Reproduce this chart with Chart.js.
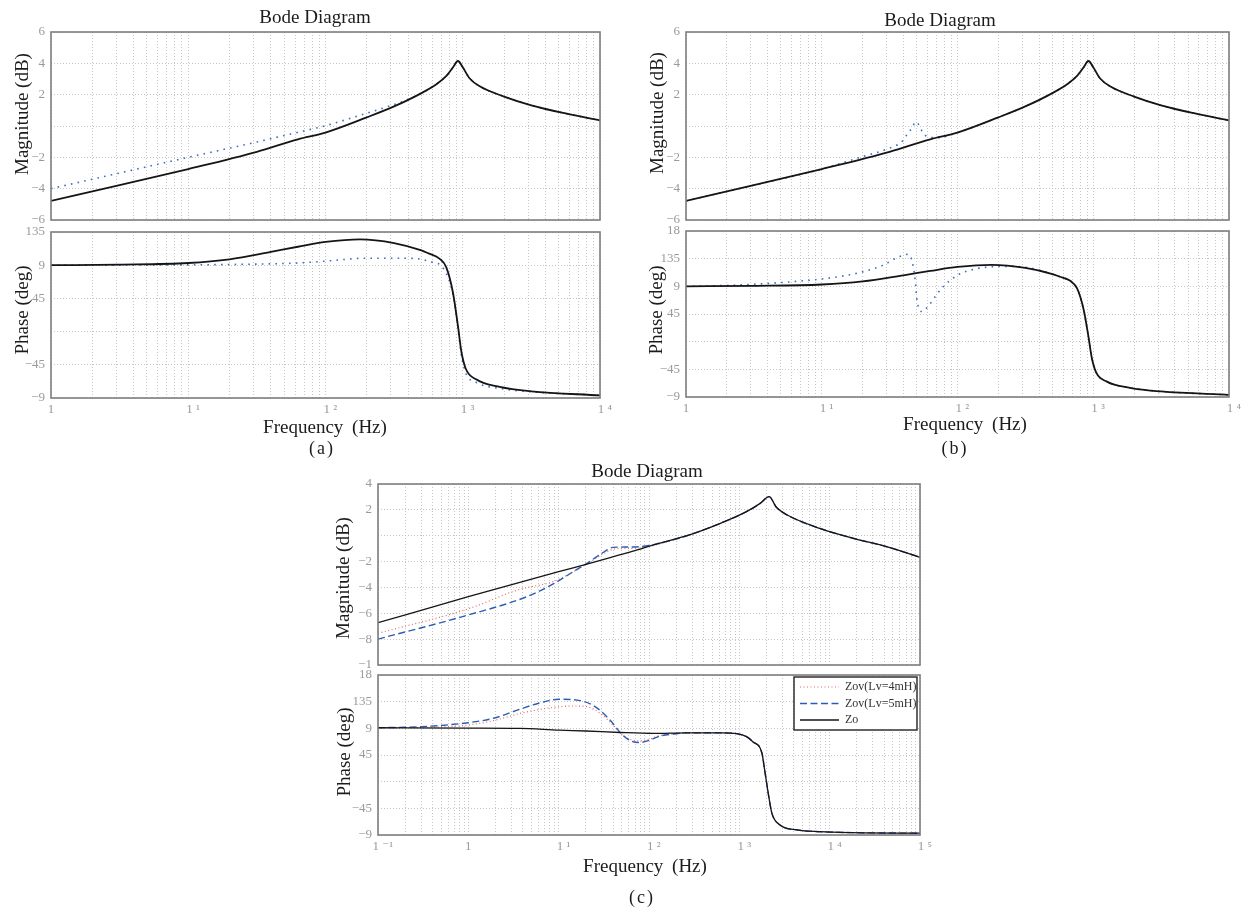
<!DOCTYPE html>
<html>
<head>
<meta charset="utf-8">
<script src="https://cdn.jsdelivr.net/npm/chart.js@4.4.1/dist/chart.umd.min.js"></script>
<style>
  html, body { margin: 0; padding: 0; background: #fff; }
  body { position: relative; width: 1244px; height: 911px; overflow: hidden;
         font-family: 'Liberation Serif', 'DejaVu Serif', serif; }
  .txt { position: absolute; white-space: nowrap; color: #1c1c1c; line-height: 1;
         transform: translate(-50%, -50%); }
  .rot { transform: translate(-50%, -50%) rotate(-90deg); }
</style>
</head>
<body>
<script>
'use strict';

// ---- axis ticks / labels (as printed in the figure) ----
const X_LABELS_AB = ['1', '1 ¹', '1 ²', '1 ³', '1 ⁴'];
const X_LABELS_C  = ['1 ⁻¹', '1', '1 ¹', '1 ²', '1 ³', '1 ⁴', '1 ⁵'];

const MAG_AB_TICKS  = [-6, -4, -2, 0, 2, 4, 6];
const MAG_AB_LABELS = ['−6', '−4', '−2', '', '2', '4', '6'];
const MAG_C_TICKS   = [-10, -8, -6, -4, -2, 0, 2, 4];
const MAG_C_LABELS  = ['−1', '−8', '−6', '−4', '−2', '', '2', '4'];
const PH_A_TICKS    = [-90, -45, 0, 45, 90, 135];
const PH_A_LABELS   = ['−9', '−45', '', '45', '9', '135'];
const PH_BC_TICKS   = [-90, -45, 0, 45, 90, 135, 180];
const PH_BC_LABELS  = ['−9', '−45', '', '45', '9', '135', '18'];

// ---- (a)/(b): Zo magnitude & phase (same curve in both) ----
const AB_MAG_F  = [1, 3.16, 10, 31.6, 63, 100, 200, 316, 500, 650, 760, 850, 922, 1000, 1120, 1350, 2000, 3160, 5620, 10000];
const AB_MAG_ZO = [-4.78, -3.78, -2.75, -1.65, -0.85, -0.42, 0.55, 1.25, 2.1, 2.7, 3.2, 3.75, 4.15, 3.75, 3.05, 2.5, 1.88, 1.32, 0.8, 0.36];

const AB_PH_F  = [1, 3.16, 10, 20, 40, 63, 100, 178, 316, 500, 562, 676, 759, 850, 922, 977, 1050, 1260, 1860, 3160, 10000];
const AB_PH_ZO = [90, 90.8, 93, 98, 108, 115, 121.5, 125, 120, 110, 106, 99, 87, 52, 8, -27, -50, -65, -75, -81, -86.5];

// ---- (a): Zov ----
const A_MAG_F   = [1, 3.16, 10, 31.6, 63, 100, 200, 400, 500, 650, 760, 850, 922, 1000, 1120, 1350, 2000, 3160, 5620, 10000];
const A_MAG_ZOV = [-4.0, -3.0, -2.0, -1.02, -0.4, 0.02, 0.82, 1.7, 2.1, 2.7, 3.2, 3.75, 4.15, 3.75, 3.05, 2.5, 1.88, 1.32, 0.8, 0.36];

const A_PH_F   = [1, 10, 31.6, 63, 100, 200, 400, 600, 720, 850, 922, 977, 1050, 1260, 1860, 3160, 10000];
const A_PH_ZOV = [90, 90.5, 91.5, 93, 95.5, 99.5, 99.5, 94, 86, 50, 5, -32, -56, -69, -77, -81.5, -86.5];

// ---- (b): Zov ----
const B_MAG_F   = [1, 3.16, 10, 20, 30, 40, 43, 47, 48.5, 52, 55, 60, 71, 100, 200, 316, 500, 650, 760, 850, 922, 1000, 1120, 1350, 2000, 3160, 5620, 10000];
const B_MAG_ZOV = [-4.78, -3.78, -2.75, -1.95, -1.48, -0.9, -0.46, -0.04, 0.25, 0.07, -0.36, -0.68, -0.75, -0.42, 0.55, 1.25, 2.1, 2.7, 3.2, 3.75, 4.15, 3.75, 3.05, 2.5, 1.88, 1.32, 0.8, 0.36];

const B_PH_F   = [1, 2.1, 4.9, 10, 14.5, 20, 28, 37, 42.7, 45.7, 49, 50, 55, 60, 71, 78, 100, 123, 174, 250, 340, 500, 562, 676, 759, 850, 922, 977, 1050, 1260, 1860, 3160, 10000];
const B_PH_ZOV = [90, 91.6, 96, 102, 107, 113.5, 124, 138, 142, 135, 97, 72, 49, 56, 78, 89, 108, 116, 121.6, 122.5, 120, 110, 106, 99, 87, 52, 8, -27, -50, -65, -75, -81, -86.5];

// ---- (c) ----
const C_MAG_F_ZO = [0.1, 1, 10, 22, 47, 74, 110, 263, 617, 1200, 1700, 2140, 2570, 3390, 7760, 18200, 42700, 100000];
const C_MAG_ZO   = [-6.73, -4.72, -2.78, -2.14, -1.49, -1.1, -0.72, 0.0, 0.96, 1.86, 2.5, 3.02, 2.2, 1.6, 0.57, -0.2, -0.85, -1.67];

const C_MAG_F_V5 = [0.1, 1, 4.47, 8.7, 14.5, 22, 32, 40, 48, 80, 145, 263, 617, 1200, 1700, 2140, 2570, 3390, 7760, 18200, 42700, 100000];
const C_MAG_V5   = [-8.0, -6.13, -4.71, -3.73, -2.78, -2.0, -1.24, -0.9, -0.88, -0.85, -0.5, 0.0, 0.96, 1.86, 2.5, 3.02, 2.2, 1.6, 0.57, -0.2, -0.85, -1.67];

const C_MAG_F_V4 = [0.1, 1, 3.7, 8.7, 14.5, 22, 32, 40, 48, 80, 145, 263, 617, 1200, 1700, 2140, 2570, 3390, 7760, 18200, 42700, 100000];
const C_MAG_V4   = [-7.55, -5.65, -4.15, -3.55, -2.8, -2.05, -1.35, -1.05, -1.0, -0.95, -0.55, 0.0, 0.96, 1.86, 2.5, 3.02, 2.2, 1.6, 0.57, -0.2, -0.85, -1.67];

const C_PH_F_ZO = [0.1, 1, 3.7, 10, 20, 48, 112, 263, 630, 933, 1200, 1410, 1780, 1905, 2090, 2290, 2820, 4370, 7760, 18200, 100000];
const C_PH_ZO   = [91, 90.5, 90, 87, 85.5, 83, 81.5, 82.5, 82.5, 81, 76, 67.5, 48, 20, -19.6, -53, -73, -81.5, -84.4, -86, -87];

const C_PH_F_V5 = [0.1, 0.3, 1, 1.9, 3.7, 6.2, 10, 17.4, 26, 37, 51, 66, 79, 102, 132, 186, 263, 630, 933, 1200, 1410, 1780, 1905, 2090, 2290, 2820, 4370, 7760, 18200, 100000];
const C_PH_V5   = [91, 92.8, 99.5, 107, 122, 133, 139, 136.7, 125.5, 104, 78.7, 67.5, 66, 70, 77, 80.4, 82.5, 82.5, 81, 76, 67.5, 48, 20, -19.6, -53, -73, -81.5, -84.4, -86, -87];

const C_PH_F_V4 = [0.1, 0.57, 1, 1.9, 3.7, 7.4, 14.5, 20.4, 29, 40, 51, 66, 79, 102, 132, 186, 263, 630, 933, 1200, 1410, 1780, 1905, 2090, 2290, 2820, 4370, 7760, 18200, 100000];
const C_PH_V4   = [91, 92.8, 95.6, 103, 115, 123.8, 127.7, 126.6, 115, 95.6, 79, 70, 69, 72, 78, 80.5, 82.5, 82.5, 81, 76, 67.5, 48, 20, -19.6, -53, -73, -81.5, -84.4, -86, -87];

const LEGEND_C = ['Zov(Lv=4mH)', 'Zov(Lv=5mH)', 'Zo'];

// ---- styling ----
const SERIF = "'Liberation Serif', 'DejaVu Serif', serif";
const TICK_GRAY = '#9a9a9a';
const GRID_GRAY = '#c6c6c6';
const PAD = 10;   // canvas margin above the plot box

const STYLE = {
  zoAB:  { borderColor: '#151515', borderWidth: 1.8, borderDash: [], order: 0 },
  zovAB: { borderColor: '#3d6fc6', borderWidth: 1.6, borderDash: [1.6, 5.2], order: 1 },
  zoC:   { borderColor: '#151515', borderWidth: 1.3, borderDash: [], order: 0 },
  v5C:   { borderColor: '#2c5db3', borderWidth: 1.4, borderDash: [7, 3.5], order: 1 },
  v4C:   { borderColor: '#e46a6a', borderWidth: 1.2, borderDash: [1, 2.5], order: 2 },
};

function pts(f, v) { return f.map((x, i) => ({ x, y: v[i] })); }

function ds(label, f, v, style) {
  return Object.assign({ label, data: pts(f, v), pointRadius: 0, fill: false,
    cubicInterpolationMode: 'monotone' }, style);
}

function decadeTicks(lo, hi) {
  const out = [];
  for (let k = lo; k < hi; k++) for (let m = 1; m < 10; m++) out.push(m * Math.pow(10, k));
  out.push(Math.pow(10, hi));
  return out;
}

const framePlugin = {
  id: 'frame',
  afterDatasetsDraw(chart) {
    const { ctx, chartArea: a } = chart;
    ctx.save();
    ctx.strokeStyle = '#7e7e7e';
    ctx.lineWidth = 1.6;
    ctx.strokeRect(a.left, a.top, a.right - a.left, a.bottom - a.top);
    ctx.restore();
  }
};

// boxed legend in the top-right corner of the (c) phase plot
const boxLegendPlugin = {
  id: 'boxLegend',
  afterDraw(chart) {
    const { ctx, chartArea: a } = chart;
    const w = 123, h = 53, x0 = a.right - w - 3, y0 = a.top + 2;
    ctx.save();
    ctx.fillStyle = '#fff';
    ctx.fillRect(x0, y0, w, h);
    ctx.strokeStyle = '#222';
    ctx.lineWidth = 1.4;
    ctx.strokeRect(x0, y0, w, h);
    ctx.font = '12px ' + SERIF;
    ctx.textBaseline = 'middle';
    LEGEND_C.forEach((lab, i) => {
      const d = chart.data.datasets.find(s => s.label === lab);
      const y = y0 + 10 + i * 16.5;
      ctx.strokeStyle = d.borderColor;
      ctx.lineWidth = d.borderWidth;
      ctx.setLineDash(d.borderDash || []);
      ctx.beginPath(); ctx.moveTo(x0 + 6, y); ctx.lineTo(x0 + 45, y); ctx.stroke();
      ctx.setLineDash([]);
      ctx.fillStyle = '#333';
      ctx.fillText(lab, x0 + 51, y);
    });
    ctx.restore();
  }
};

function bodeChart(rect, o) {
  const xh = o.showX ? 30 : PAD;
  const w = rect.r - rect.l + 50 + 24;
  const h = rect.b - rect.t + PAD + xh;
  const cv = document.createElement('canvas');
  cv.width = w; cv.height = h;
  cv.style.cssText = `position:absolute;left:${rect.l - 50}px;top:${rect.t - PAD}px;width:${w}px;height:${h}px`;
  document.body.appendChild(cv);

  const xt = decadeTicks(o.xExp[0], o.xExp[1]);
  const tickFont = { family: SERIF, size: 13 };

  return new Chart(cv, {
    type: 'line',
    data: { datasets: o.datasets },
    options: {
      responsive: false,
      animation: false,
      devicePixelRatio: 1,
      layout: { autoPadding: false, padding: { left: 0, top: PAD, right: 24, bottom: 0 } },
      plugins: { legend: { display: false }, tooltip: { enabled: false } },
      scales: {
        x: {
          type: 'logarithmic',
          min: Math.pow(10, o.xExp[0]),
          max: Math.pow(10, o.xExp[1]),
          afterBuildTicks: s => { s.ticks = xt.map(v => ({ value: v })); },
          afterFit: s => { s.height = xh; s.paddingLeft = 0; s.paddingRight = 0; },
          grid: { color: GRID_GRAY, lineWidth: 1, drawTicks: false },
          border: { display: false, dash: [1, 2] },
          ticks: {
            display: o.showX, autoSkip: false, maxRotation: 0, padding: 4,
            color: TICK_GRAY, font: tickFont,
            callback: (v, i) => {
              if (i % 9 !== 0) return '';
              const lab = o.xLabels[i / 9];
              return lab.length > 1 ? '   ' + lab : lab;
            }
          }
        },
        y: {
          type: 'linear',
          min: o.yTicks[0],
          max: o.yTicks[o.yTicks.length - 1],
          afterBuildTicks: s => { s.ticks = o.yTicks.map(v => ({ value: v })); },
          afterFit: s => { s.width = 50; s.paddingTop = 0; s.paddingBottom = 0; },
          grid: { color: GRID_GRAY, lineWidth: 1, drawTicks: false },
          border: { display: false, dash: [1, 2] },
          ticks: {
            padding: 6, color: TICK_GRAY, font: tickFont,
            callback: (v, i) => o.yLabels[i]
          }
        }
      }
    },
    plugins: o.legend ? [framePlugin, boxLegendPlugin] : [framePlugin]
  });
}

// ---- (a) ----
bodeChart({ l: 51, t: 32, r: 600, b: 220 }, {
  showX: false, xExp: [0, 4], xLabels: X_LABELS_AB, yTicks: MAG_AB_TICKS, yLabels: MAG_AB_LABELS,
  datasets: [
    ds('Zo', AB_MAG_F, AB_MAG_ZO, STYLE.zoAB),
    ds('Zov', A_MAG_F, A_MAG_ZOV, STYLE.zovAB),
  ]
});
bodeChart({ l: 51, t: 232, r: 600, b: 398 }, {
  showX: true, xExp: [0, 4], xLabels: X_LABELS_AB, yTicks: PH_A_TICKS, yLabels: PH_A_LABELS,
  datasets: [
    ds('Zo', AB_PH_F, AB_PH_ZO, STYLE.zoAB),
    ds('Zov', A_PH_F, A_PH_ZOV, STYLE.zovAB),
  ]
});

// ---- (b) ----
bodeChart({ l: 686, t: 32, r: 1229, b: 220 }, {
  showX: false, xExp: [0, 4], xLabels: X_LABELS_AB, yTicks: MAG_AB_TICKS, yLabels: MAG_AB_LABELS,
  datasets: [
    ds('Zo', AB_MAG_F, AB_MAG_ZO, STYLE.zoAB),
    ds('Zov', B_MAG_F, B_MAG_ZOV, STYLE.zovAB),
  ]
});
bodeChart({ l: 686, t: 231, r: 1229, b: 397 }, {
  showX: true, xExp: [0, 4], xLabels: X_LABELS_AB, yTicks: PH_BC_TICKS, yLabels: PH_BC_LABELS,
  datasets: [
    ds('Zo', AB_PH_F, AB_PH_ZO, STYLE.zoAB),
    ds('Zov', B_PH_F, B_PH_ZOV, STYLE.zovAB),
  ]
});

// ---- (c) ----
bodeChart({ l: 378, t: 484, r: 920, b: 665 }, {
  showX: false, xExp: [-1, 5], xLabels: X_LABELS_C, yTicks: MAG_C_TICKS, yLabels: MAG_C_LABELS,
  datasets: [
    ds('Zov(Lv=4mH)', C_MAG_F_V4, C_MAG_V4, STYLE.v4C),
    ds('Zov(Lv=5mH)', C_MAG_F_V5, C_MAG_V5, STYLE.v5C),
    ds('Zo', C_MAG_F_ZO, C_MAG_ZO, STYLE.zoC),
  ]
});
bodeChart({ l: 378, t: 675, r: 920, b: 835 }, {
  showX: true, legend: true, xExp: [-1, 5], xLabels: X_LABELS_C, yTicks: PH_BC_TICKS, yLabels: PH_BC_LABELS,
  datasets: [
    ds('Zov(Lv=4mH)', C_PH_F_V4, C_PH_V4, STYLE.v4C),
    ds('Zov(Lv=5mH)', C_PH_F_V5, C_PH_V5, STYLE.v5C),
    ds('Zo', C_PH_F_ZO, C_PH_ZO, STYLE.zoC),
  ]
});

// ---- titles and captions ----
const TEXTS = [
  ['Bode Diagram', 315, 16, 19, false], ['Bode Diagram', 940, 19, 19, false], ['Bode Diagram', 647, 470, 19, false],
  ['Magnitude (dB)', 21, 114, 19, true], ['Magnitude (dB)', 656, 113, 19, true], ['Magnitude (dB)', 342, 578, 19, true],
  ['Phase (deg)', 21, 310, 19, true], ['Phase (deg)', 655, 310, 19, true], ['Phase (deg)', 343, 752, 19, true],
  ['Frequency (Hz)', 325, 426, 19, false], ['Frequency (Hz)', 965, 423, 19, false], ['Frequency (Hz)', 645, 865, 19, false],
  ['(a)', 322, 448, 18, false], ['(b)', 955, 448, 18, false], ['(c)', 642, 897, 18, false],
];
for (const [t, x, y, size, rot] of TEXTS) {
  const d = document.createElement('div');
  d.className = rot ? 'txt rot' : 'txt';
  d.textContent = t;
  d.style.left = x + 'px';
  d.style.top = y + 'px';
  d.style.fontSize = size + 'px';
  if (t.startsWith('Frequency')) d.style.wordSpacing = '4px';
  if (t.startsWith('(')) d.style.letterSpacing = '2px';
  document.body.appendChild(d);
}
</script>
</body>
</html>
